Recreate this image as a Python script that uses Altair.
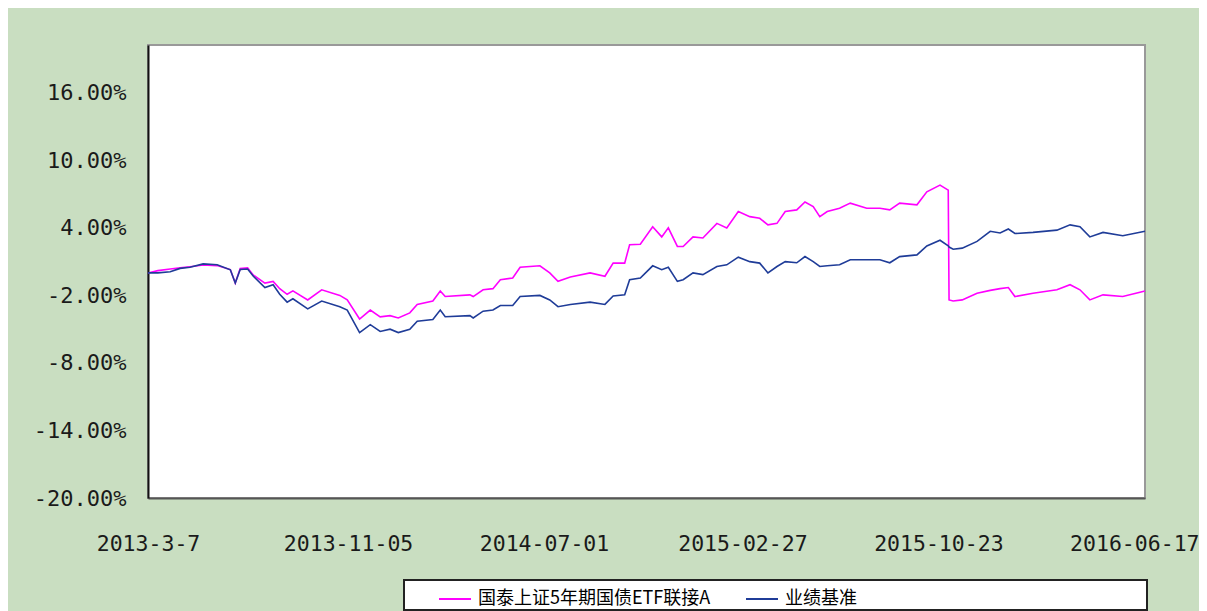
import altair as alt
import pandas as pd

# ---------------- data ----------------
dates = [
    "2013-03-07", "2013-03-19", "2013-04-03", "2013-04-15", "2013-04-27", "2013-05-13",
    "2013-05-30", "2013-06-15", "2013-06-21", "2013-06-27", "2013-07-06", "2013-07-13",
    "2013-07-27", "2013-08-06", "2013-08-14", "2013-08-23", "2013-08-30", "2013-09-17",
    "2013-10-04", "2013-10-26", "2013-11-04", "2013-11-19", "2013-12-02", "2013-12-14",
    "2013-12-26", "2014-01-05", "2014-01-19", "2014-01-28", "2014-02-16", "2014-02-25",
    "2014-03-03", "2014-04-02", "2014-04-06", "2014-04-18", "2014-04-30", "2014-05-09",
    "2014-05-24", "2014-06-02", "2014-06-26", "2014-07-08", "2014-07-18", "2014-08-02",
    "2014-08-26", "2014-09-13", "2014-09-23", "2014-10-07", "2014-10-13", "2014-10-26",
    "2014-11-10", "2014-11-21", "2014-11-29", "2014-12-10", "2014-12-17", "2014-12-29",
    "2015-01-10", "2015-01-27", "2015-02-08", "2015-02-22", "2015-03-08", "2015-03-20",
    "2015-03-30", "2015-04-10", "2015-04-20", "2015-05-04", "2015-05-14", "2015-05-24",
    "2015-06-01", "2015-06-10", "2015-06-25", "2015-07-08", "2015-07-28", "2015-08-13",
    "2015-08-25", "2015-09-06", "2015-09-27", "2015-10-09", "2015-10-25", "2015-11-04",
    "2015-11-05", "2015-11-10", "2015-11-21", "2015-12-09", "2015-12-25", "2016-01-06",
    "2016-01-16", "2016-01-24", "2016-02-15", "2016-03-15", "2016-03-31", "2016-04-12",
    "2016-04-24", "2016-05-10", "2016-06-03", "2016-06-30",
]

fund = [
    0.0, 0.2, 0.35, 0.45, 0.55, 0.7,
    0.65, 0.3, -0.9, 0.4, 0.45, -0.2,
    -0.9, -0.75, -1.4, -1.9, -1.6, -2.4,
    -1.5, -2.0, -2.4, -4.1, -3.3, -3.9,
    -3.8, -4.0, -3.55, -2.8, -2.5, -1.6,
    -2.1, -1.95, -2.1, -1.5, -1.4, -0.6,
    -0.45, 0.5, 0.63, 0.0, -0.75, -0.37,
    0.0, -0.3, 0.87, 0.87, 2.5, 2.55,
    4.1, 3.2, 4.0, 2.35, 2.35, 3.2,
    3.1, 4.4, 4.0, 5.45, 5.0, 4.85,
    4.27, 4.4, 5.45, 5.6, 6.3, 5.9,
    5.0, 5.45, 5.75, 6.2, 5.75, 5.75,
    5.6, 6.2, 6.05, 7.2, 7.8, 7.35,
    -2.4, -2.5, -2.4, -1.8, -1.55, -1.4,
    -1.3, -2.1, -1.8, -1.5, -1.05, -1.5,
    -2.4, -1.95, -2.1, -1.6,
]

bench = [
    0.0, 0.0, 0.1, 0.4, 0.5, 0.8,
    0.72, 0.28, -0.9, 0.3, 0.35, -0.3,
    -1.3, -1.05, -1.9, -2.6, -2.3, -3.2,
    -2.5, -3.0, -3.3, -5.3, -4.6, -5.2,
    -5.0, -5.3, -5.0, -4.3, -4.15, -3.3,
    -3.9, -3.8, -4.0, -3.4, -3.3, -2.9,
    -2.9, -2.1, -2.0, -2.4, -3.0, -2.8,
    -2.6, -2.8, -2.05, -1.95, -0.6, -0.45,
    0.63, 0.28, 0.5, -0.75, -0.6, 0.0,
    -0.15, 0.57, 0.72, 1.4, 1.0, 0.87,
    0.0, 0.57, 1.0, 0.9, 1.45, 1.0,
    0.57, 0.63, 0.72, 1.17, 1.17, 1.17,
    0.9, 1.45, 1.6, 2.4, 2.9, 2.4,
    2.3, 2.1, 2.2, 2.8, 3.7, 3.55,
    3.9, 3.5, 3.6, 3.8, 4.27, 4.1,
    3.2, 3.6, 3.3, 3.7,
]

series_names = ["国泰上证5年期国债ETF联接A", "业绩基准"]
series_colors = ["#FF00FF", "#1F3C98"]

y_ticks = [-20, -14, -8, -2, 4, 10, 16]
y_domain = [-20, 20.25]

x_tick_dates = ["2013-03-07", "2013-11-05", "2014-07-01", "2015-02-27", "2015-10-23", "2016-06-17"]
x_tick_labels = ["2013-3-7", "2013-11-05", "2014-07-01", "2015-02-27", "2015-10-23", "2016-06-17"]
x_domain = ["2013-03-07", "2016-06-30"]

# ---------------- build ----------------
n = len(dates)
df = pd.DataFrame({
    "date": dates + dates,
    "value": fund + bench,
    "series": [series_names[0]] * n + [series_names[1]] * n,
})


def dt(s):
    y, m, d = (int(p) for p in s.split("-"))
    return alt.DateTime(year=y, month=m, date=d, utc=True)


x_label_expr = ""
for d, lab in zip(x_tick_dates, x_tick_labels):
    x_label_expr += f"utcFormat(datum.value, '%Y-%m-%d') == '{d}' ? '{lab}' : "
x_label_expr += "''"

# widen the legend frame to the right (ideographic spaces, closed by a zero-width char so they are kept)
pad_label = "\u3000" * 16 + "\u200b"
legend_label_expr = f"datum.label == '{series_names[1]}' ? datum.label + '{pad_label}' : datum.label"

TICK_FONT = "DejaVu Sans Mono"

chart = alt.Chart(df).mark_line(strokeWidth=1.6, interpolate="linear").encode(
    x=alt.X(
        "date:T",
        scale=alt.Scale(type="utc", domain=[dt(x_domain[0]), dt(x_domain[1])], nice=False),
        axis=alt.Axis(
            title=None,
            values=[dt(d) for d in x_tick_dates],
            labelExpr=x_label_expr,
            grid=False,
            ticks=False,
            domainColor="#555555",
            domainWidth=2,
            labelFont=TICK_FONT,
            labelFontSize=21.5,
            labelColor="#1a1a1a",
            labelPadding=35,
            labelOverlap=False,
            labelBound=False,
            labelFlush=False,
        ),
    ),
    y=alt.Y(
        "value:Q",
        scale=alt.Scale(domain=y_domain, nice=False, zero=False),
        axis=alt.Axis(
            title=None,
            values=y_ticks,
            labelExpr="(datum.value < 0 ? '-' : '') + format(abs(datum.value), '.2f') + '%'",
            grid=False,
            ticks=False,
            domainColor="#111111",
            domainWidth=2,
            labelFont=TICK_FONT,
            labelFontSize=22,
            labelColor="#1a1a1a",
            labelPadding=22,
        ),
    ),
    color=alt.Color(
        "series:N",
        scale=alt.Scale(domain=series_names, range=series_colors),
        sort=series_names,
        legend=alt.Legend(
            title=None,
            orient="none",
            legendX=256,
            legendY=535,
            direction="horizontal",
            fillColor="white",
            strokeColor="#222222",
            padding=2,
            symbolType="stroke",
            symbolSize=1024,
            symbolStrokeWidth=2,
            symbolOffset=32,
            labelOffset=6,
            columnPadding=2,
            labelFont="Noto Sans CJK SC",
            labelFontSize=18,
            labelColor="#000000",
            labelLimit=0,
            labelExpr=legend_label_expr,
        ),
    ),
).properties(
    width=997,
    height=453,
    background="#C9DEC1",
    padding={"left": 140, "top": 37, "right": 54, "bottom": 113},
    autosize=alt.AutoSizeParams(type="none"),
).configure_view(
    stroke="#999999",
    strokeWidth=2,
    fill="white",
).configure_legend(
    strokeWidth=2,
)

chart.save("out.html", embed_options={"renderer": "svg", "actions": False})
